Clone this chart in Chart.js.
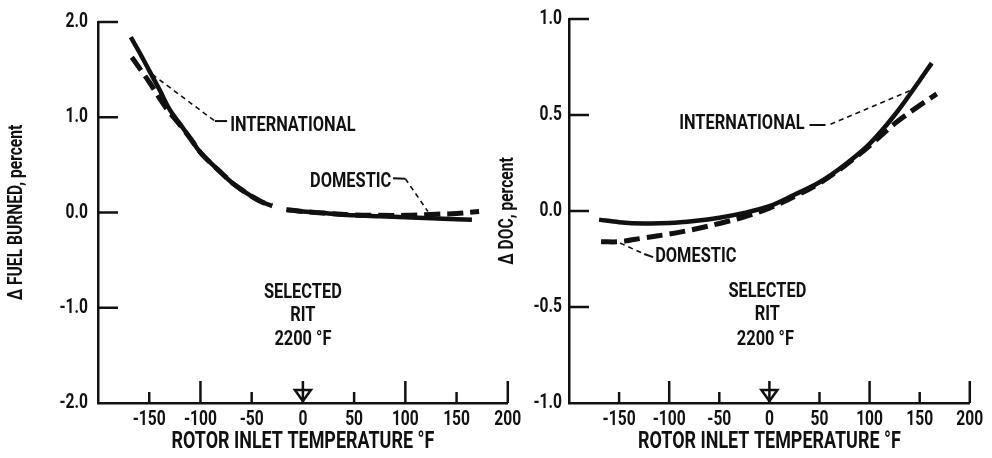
<!DOCTYPE html>
<html>
<head>
<meta charset="utf-8">
<script src="https://cdn.jsdelivr.net/npm/chart.js@4.4.1/dist/chart.umd.min.js"></script>
<style>
  body { margin: 0; background: #fff; }
  #wrap { position: relative; width: 992px; height: 458px; overflow: hidden; background: #fff; }
  .box { position: absolute; top: 0; height: 458px; }
  #leftBox { left: 0; width: 530px; }
  #rightBox { left: 490px; width: 502px; }
</style>
</head>
<body>
<div id="wrap">
  <div class="box" id="leftBox"><canvas id="fuelChart"></canvas></div>
  <div class="box" id="rightBox"><canvas id="docChart"></canvas></div>
</div>
<script>
var FONT = "Roboto, 'Liberation Sans', sans-serif";
var INK = '#111';
var SQUEEZE = 0.78; // the report lettering is a narrow face, so squash text horizontally

// shared x axis (rotor inlet temperature, deg F)
var xTickValues = [-150, -100, -50, 0, 50, 100, 150, 200];
var xMajorTicks = [-100, 100, 200];
var xMinorTicks = [-150, -50, 50, 150];

// left panel: delta fuel burned, percent (null = break in the curve)
var fuelIntlX = [-168, -160, -150, -140, -130, -120, -110, -100, -90, -80, -70, -60, -50, -40, -30, -23, -16, 0, 25, 50, 75, 100, 125, 150, 165];
var fuelIntlY = [1.84, 1.69, 1.49, 1.29, 1.08, 0.93, 0.78, 0.63, 0.52, 0.42, 0.32, 0.24, 0.17, 0.11, 0.07, null, 0.03, 0.01, -0.01, -0.03, -0.04, -0.05, -0.06, -0.07, -0.075];
var fuelDomX = [-167, -150, -135, -120, -110, -100, -90, -80, -70, -60, -50, -40, -30, -23, -16, 0, 25, 50, 75, 100, 125, 150, 172];
var fuelDomY = [1.63, 1.37, 1.12, 0.92, 0.78, 0.63, 0.52, 0.42, 0.32, 0.24, 0.17, 0.11, 0.07, null, 0.03, 0.01, -0.01, -0.025, -0.03, -0.03, -0.02, -0.01, 0.01];
var fuelYTicks = [-2, -1, 0, 1, 2];

// right panel: delta DOC, percent
var docIntlX = [-170, -150, -125, -100, -75, -50, -25, 0, 25, 50, 75, 100, 125, 150, 162];
var docIntlY = [-0.045, -0.058, -0.065, -0.063, -0.052, -0.035, -0.01, 0.025, 0.085, 0.15, 0.24, 0.35, 0.50, 0.68, 0.77];
var docDomX = [-168, -150, -125, -100, -75, -50, -25, 0, 25, 50, 75, 100, 125, 150, 167];
var docDomY = [-0.16, -0.16, -0.14, -0.12, -0.095, -0.065, -0.03, 0.015, 0.075, 0.145, 0.235, 0.34, 0.455, 0.55, 0.61];
var docYTicks = [-1, -0.5, 0, 0.5, 1];

function toPoints(xs, ys) {
  return xs.map(function (x, i) { return { x: x, y: ys[i] }; });
}

// wrap fillText so every label is drawn narrow, around its own anchor
var narrowText = {
  id: 'narrowText',
  beforeDraw: function (chart) {
    var ctx = chart.ctx;
    if (ctx._narrow) return;
    var orig = ctx.fillText;
    ctx.fillText = function (text, x, y) {
      this.save();
      this.translate(x, y);
      this.scale(SQUEEZE, 1);
      orig.call(this, text, 0, 0);
      this.restore();
    };
    ctx._narrow = true;
  }
};

// ticks pointing into the plot, the arrow at 0 and the hand lettering
function makeMarks(notes) {
  return {
    id: 'paperMarks',
    afterDraw: function (chart) {
      var ctx = chart.ctx;
      var xs = chart.scales.x, ys = chart.scales.y;
      var area = chart.chartArea;
      ctx.save();
      ctx.strokeStyle = INK;
      ctx.fillStyle = INK;
      ctx.lineWidth = 2.5;
      ctx.lineCap = 'butt';

      // y ticks
      ys.ticks.forEach(function (t) {
        if (t.value === ys.min) return;
        var py = ys.getPixelForValue(t.value);
        ctx.beginPath();
        ctx.moveTo(area.left, py);
        ctx.lineTo(area.left + 20, py);
        ctx.stroke();
      });
      // x ticks
      xMajorTicks.forEach(function (v) {
        var px = xs.getPixelForValue(v);
        ctx.beginPath();
        ctx.moveTo(px, area.bottom);
        ctx.lineTo(px, area.bottom - 22);
        ctx.stroke();
      });
      xMinorTicks.forEach(function (v) {
        var px = xs.getPixelForValue(v);
        ctx.beginPath();
        ctx.moveTo(px, area.bottom);
        ctx.lineTo(px, area.bottom - 11);
        ctx.stroke();
      });
      // selected RIT arrow
      var ax = xs.getPixelForValue(0);
      ctx.beginPath();
      ctx.moveTo(ax, area.bottom - 22);
      ctx.lineTo(ax, area.bottom);
      ctx.stroke();
      ctx.beginPath();
      ctx.moveTo(ax - 8, area.bottom - 13);
      ctx.lineTo(ax + 8, area.bottom - 13);
      ctx.lineTo(ax, area.bottom - 2);
      ctx.closePath();
      ctx.stroke();

      // leader lines
      notes.leaders.forEach(function (l) {
        ctx.beginPath();
        ctx.lineWidth = l.dashed ? 1.6 : 2;
        ctx.setLineDash(l.dashed ? [5, 4] : []);
        l.pts.forEach(function (p, i) {
          var px = xs.getPixelForValue(p[0]), py = ys.getPixelForValue(p[1]);
          if (i === 0) ctx.moveTo(px, py); else ctx.lineTo(px, py);
        });
        ctx.stroke();
      });
      ctx.setLineDash([]);

      // text
      ctx.font = 'bold 21px ' + FONT;
      ctx.textBaseline = 'middle';
      notes.texts.forEach(function (t) {
        ctx.textAlign = t.align;
        ctx.fillText(t.text, xs.getPixelForValue(t.x), ys.getPixelForValue(t.y));
      });
      ctx.restore();
    }
  };
}

function panelChart(canvasId, cfg) {
  var tickFont = { family: FONT, size: 20, weight: 'bold' };
  return new Chart(document.getElementById(canvasId), {
    type: 'line',
    data: {
      datasets: [
        {
          label: 'INTERNATIONAL',
          data: toPoints(cfg.intlX, cfg.intlY),
          borderColor: INK,
          borderWidth: 4.5,
          pointRadius: 0,
          tension: 0.35,
          spanGaps: false
        },
        {
          label: 'DOMESTIC',
          data: toPoints(cfg.domX, cfg.domY),
          borderColor: INK,
          borderWidth: 5,
          borderDash: [16, 7],
          pointRadius: 0,
          tension: 0.35,
          spanGaps: false
        }
      ]
    },
    options: {
      responsive: true,
      maintainAspectRatio: false,
      animation: false,
      layout: { padding: { top: 19, right: cfg.padRight, left: 0, bottom: 0 } },
      plugins: { legend: { display: false }, tooltip: { enabled: false } },
      scales: {
        x: {
          type: 'linear',
          min: -200,
          max: 200,
          grid: { display: false, drawTicks: false, tickLength: 0 },
          border: { display: true, color: INK, width: 2.5 },
          afterBuildTicks: function (s) { s.ticks = xTickValues.map(function (v) { return { value: v }; }); },
          afterFit: function (s) { s.height = 55; },
          ticks: { color: INK, font: tickFont, padding: 5, maxRotation: 0, autoSkip: false },
          title: {
            display: true,
            text: 'ROTOR INLET TEMPERATURE °F',
            color: INK,
            font: { family: FONT, size: 23, weight: 'bold' },
            padding: { top: 0, bottom: 2 }
          }
        },
        y: {
          type: 'linear',
          min: cfg.yMin,
          max: cfg.yMax,
          grid: { display: false, drawTicks: false, tickLength: 0 },
          border: { display: true, color: INK, width: 2.5 },
          afterBuildTicks: function (s) { s.ticks = cfg.yTicks.map(function (v) { return { value: v }; }); },
          afterFit: function (s) { s.width = cfg.yWidth; },
          ticks: {
            color: INK,
            font: tickFont,
            padding: cfg.yLabelPad,
            autoSkip: false,
            callback: function (v) { return v.toFixed(1); }
          },
          title: {
            display: true,
            text: cfg.yTitle,
            color: INK,
            font: { family: FONT, size: 20, weight: 'bold' },
            padding: { top: cfg.yTitlePad, bottom: 0 }
          }
        }
      }
    },
    plugins: [narrowText, makeMarks(cfg.notes)]
  });
}

panelChart('fuelChart', {
  intlX: fuelIntlX, intlY: fuelIntlY, domX: fuelDomX, domY: fuelDomY,
  yMin: -2, yMax: 2, yTicks: fuelYTicks,
  yWidth: 98, yLabelPad: 10, yTitlePad: 5, padRight: 22,
  yTitle: 'Δ FUEL BURNED, percent',
  notes: {
    leaders: [
      { dashed: true, pts: [[-147, 1.45], [-86, 0.96]] },
      { dashed: false, pts: [[-86, 0.96], [-74, 0.96]] },
      { dashed: false, pts: [[88, 0.36], [100, 0.355]] },
      { dashed: true, pts: [[100, 0.355], [122, 0.01]] }
    ],
    texts: [
      { text: 'INTERNATIONAL', x: -71, y: 0.91, align: 'left' },
      { text: 'DOMESTIC', x: 7, y: 0.32, align: 'left' },
      { text: 'SELECTED', x: 0, y: -0.84, align: 'center' },
      { text: 'RIT', x: 0, y: -1.08, align: 'center' },
      { text: '2200 °F', x: 0, y: -1.34, align: 'center' }
    ]
  }
});

panelChart('docChart', {
  intlX: docIntlX, intlY: docIntlY, domX: docDomX, domY: docDomY,
  yMin: -1, yMax: 1, yTicks: docYTicks,
  yWidth: 79, yLabelPad: 7, yTitlePad: 6, padRight: 15,
  yTitle: 'Δ DOC, percent',
  notes: {
    leaders: [
      { dashed: false, pts: [[40, 0.448], [56, 0.448]] },
      { dashed: true, pts: [[61, 0.452], [142, 0.63]] },
      { dashed: true, pts: [[-149, -0.167], [-125, -0.224]] },
      { dashed: false, pts: [[-125, -0.224], [-116, -0.24]] }
    ],
    texts: [
      { text: 'INTERNATIONAL', x: -90, y: 0.455, align: 'left' },
      { text: 'DOMESTIC', x: -114, y: -0.24, align: 'left' },
      { text: 'SELECTED', x: -2, y: -0.42, align: 'center' },
      { text: 'RIT', x: -2, y: -0.54, align: 'center' },
      { text: '2200 °F', x: -4, y: -0.67, align: 'center' }
    ]
  }
});
</script>
</body>
</html>
